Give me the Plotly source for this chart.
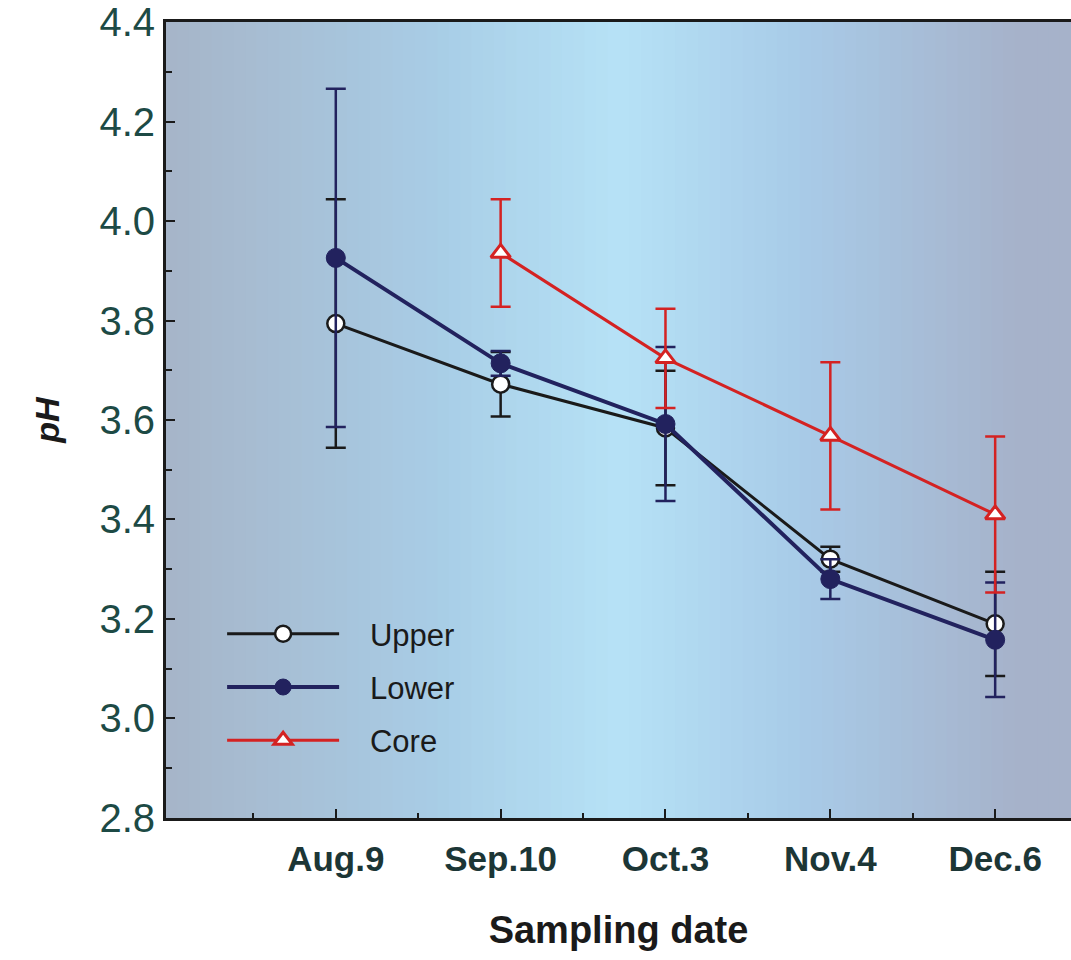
import plotly.graph_objects as go

dates = ["Aug.9", "Sep.10", "Oct.3", "Nov.4", "Dec.6"]
xpos = [1, 2, 3, 4, 5]

upper_ph = [3.794, 3.672, 3.584, 3.320, 3.190]
upper_err = [0.250, 0.065, 0.115, 0.025, 0.105]

lower_ph = [3.926, 3.714, 3.592, 3.280, 3.158]
lower_err = [0.340, 0.025, 0.155, 0.040, 0.115]

core_x = [2, 3, 4, 5]
core_ph = [3.936, 3.724, 3.568, 3.410]
core_err = [0.108, 0.100, 0.148, 0.157]

y_ticks = [2.8, 3.0, 3.2, 3.4, 3.6, 3.8, 4.0, 4.2, 4.4]

# background gradient stops (paper fraction, rgb)
bg_stops = [
    (0.00, (166, 180, 200)),
    (0.30, (168, 205, 230)),
    (0.50, (182, 226, 246)),
    (0.70, (168, 203, 232)),
    (0.94, (166, 178, 202)),
    (1.00, (166, 178, 202)),
]

def bg_color(f):
    for (f0, c0), (f1, c1) in zip(bg_stops[:-1], bg_stops[1:]):
        if f0 <= f <= f1:
            t = (f - f0) / (f1 - f0) if f1 > f0 else 0
            return "rgb(%d,%d,%d)" % tuple(round(a + (b - a) * t) for a, b in zip(c0, c1))
    return "rgb(%d,%d,%d)" % bg_stops[-1][1]

shapes = []
n = 80
for i in range(n):
    f0, f1 = i / n, (i + 1) / n
    shapes.append(dict(type="rect", xref="paper", yref="paper", x0=f0, x1=f1 + 0.002,
                       y0=0, y1=1, fillcolor=bg_color((f0 + f1) / 2), line=dict(width=0),
                       layer="below"))

NB = "\u00a0"
fig = go.Figure()

fig.add_trace(go.Scatter(
    x=xpos, y=upper_ph, name=NB * 3 + "Upper", legendgroup="u", mode="lines+markers",
    line=dict(color="#1a1a1a", width=3),
    marker=dict(symbol="circle", size=17, color="white", line=dict(color="#1a1a1a", width=2.5)),
    error_y=dict(type="data", array=upper_err, color="#1a1a1a", thickness=2.5, width=10),
))
fig.add_trace(go.Scatter(
    x=xpos, y=lower_ph, name=NB * 3 + "Lower", legendgroup="l", mode="lines+markers",
    line=dict(color="#22225e", width=4),
    marker=dict(symbol="circle", size=19, color="#22225e", line=dict(color="#22225e", width=1)),
    error_y=dict(type="data", array=lower_err, color="#22225e", thickness=2.5, width=10),
))
fig.add_trace(go.Scatter(
    x=core_x, y=core_ph, name=NB * 3 + "Core", legendgroup="c", mode="lines+markers",
    line=dict(color="#d42222", width=3),
    marker=dict(symbol="triangle-up", size=17, color="white", line=dict(color="#d42222", width=3)),
    error_y=dict(type="data", array=core_err, color="#d42222", thickness=2.5, width=10),
))

fig.update_layout(
    width=1071, height=960,
    margin=dict(l=166, r=0, t=17, b=142),
    paper_bgcolor="white",
    plot_bgcolor="rgb(170,195,215)",
    shapes=shapes,
    font=dict(family="Liberation Sans, Arial, sans-serif", color="#1a1a1a"),
    showlegend=True,
    legend=dict(
        x=0.062, y=0.265, xanchor="left", yanchor="top",
        bgcolor="rgba(0,0,0,0)", font=dict(size=31, color="#1a1a1a"),
        itemwidth=112, tracegroupgap=10,
    ),
    xaxis=dict(
        range=[-0.03, 5.46],
        tickmode="array", tickvals=xpos, ticktext=["<b>%s</b>" % d for d in dates],
        ticks="inside", ticklen=9, tickwidth=2, tickcolor="#1a1a1a",
        minor=dict(tick0=0.5, dtick=1, ticks="inside", ticklen=5, tickwidth=2, tickcolor="#1a1a1a"),
        showline=True, linecolor="#1a1a1a", linewidth=3, mirror=True,
        showgrid=False, zeroline=False,
        tickfont=dict(size=35, color="#1c3636", family="Liberation Sans, Arial, sans-serif"),
        ticklabelstandoff=8,
        title=dict(text="<b>Sampling date</b>", font=dict(size=38, color="#1a1a1a"), standoff=40),
    ),
    yaxis=dict(
        range=[2.7995, 4.4005],
        tickmode="array", tickvals=y_ticks, ticktext=["%.1f" % v for v in y_ticks],
        ticks="inside", ticklen=9, tickwidth=2, tickcolor="#1a1a1a",
        minor=dict(dtick=0.1, ticks="inside", ticklen=6, tickwidth=2, tickcolor="#1a1a1a"),
        showline=True, linecolor="#1a1a1a", linewidth=3,
        showgrid=False, zeroline=False,
        ticklabeloverflow="allow",
        tickfont=dict(size=40, color="#1d4a45"),
        title=dict(text="<b><i>pH</i></b>", font=dict(size=34, color="#1a1a1a"), standoff=30),
    ),
)

fig.write_html("out.html")
